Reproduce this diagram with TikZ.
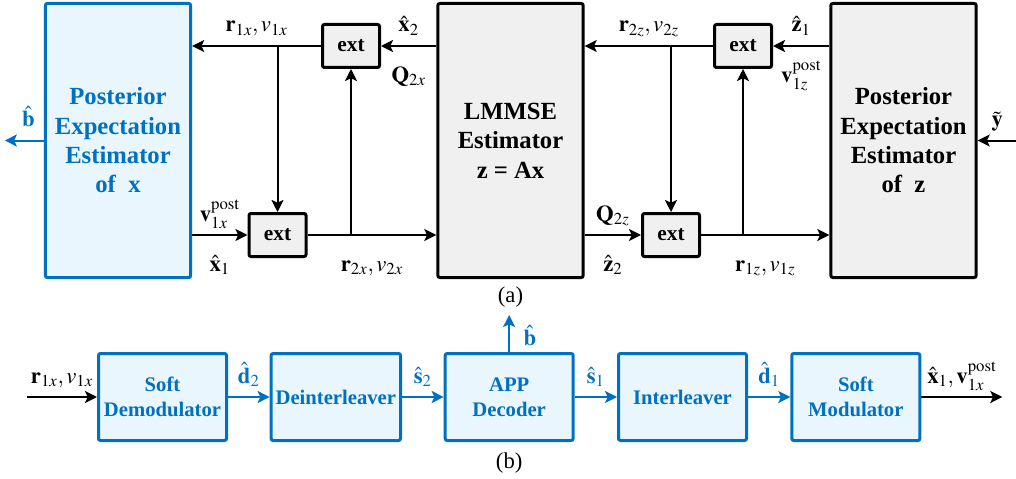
\documentclass[tikz,border=0pt]{standalone}
\usepackage{mathptmx}
\usepackage{fontspec}
\setmainfont{Liberation Serif}
\usepackage{tikz}
\usepackage{xcolor}
\usetikzlibrary{arrows.meta, positioning}

\definecolor{estblue}{RGB}{0,112,192}
\definecolor{estfill}{RGB}{234,246,253}
\definecolor{boxgray}{RGB}{240,240,240}

\begin{document}
\begin{tikzpicture}[on grid, line width=1.5pt, >={Stealth[length=9pt,width=9pt,inset=2pt]},
    bigbox/.style={rectangle, rounded corners=1.5pt, draw, line width=2.25pt, fill=boxgray, minimum width=109pt, minimum height=205.5pt, align=center, font=\fontsize{18.5}{22}\selectfont\bfseries},
    bluebig/.style={bigbox, draw=estblue, fill=estfill, text=estblue},
    extbox/.style={rectangle, rounded corners=1.5pt, draw, line width=2.25pt, fill=boxgray, minimum width=42.75pt, minimum height=32.25pt, font=\fontsize{16}{19}\selectfont\bfseries},
    chainbox/.style={rectangle, rounded corners=1.5pt, draw=estblue, line width=2.25pt, fill=estfill, text=estblue, minimum width=96pt, minimum height=65.25pt, align=center, font=\fontsize{15.5}{18.5}\selectfont\bfseries},
    lbl/.style={font=\fontsize{17}{20}\selectfont, inner sep=0pt},
    lblup/.style={lbl, anchor=base, yshift=10.5pt},
    lbldown/.style={lbl, anchor=base, yshift=-27pt},
    capt/.style={font=\fontsize{17}{20}\selectfont}]

    \useasboundingbox (0,0) rectangle (762pt,-358.5pt);

    % (a) turbo structure of the two estimators
    \node[bluebig] (PEx) at (88.5pt,-105.375pt) {Posterior\\Expectation\\Estimator\\of\ \ x};
    \node[bigbox, right=294.375pt of PEx] (LMMSE) {LMMSE\\Estimator\\z = Ax};
    \node[bigbox, right=294.75pt of LMMSE] (PEz) {Posterior\\Expectation\\Estimator\\of\ \ z};

    \node[extbox, above left=70.875pt and 119.625pt of LMMSE] (extA) {ext};
    \node[extbox, below right=70.875pt and 119.625pt of PEx] (extB) {ext};
    \node[extbox, above left=70.875pt and 120.375pt of PEz] (extC) {ext};
    \node[extbox, below right=70.875pt and 120.375pt of LMMSE] (extD) {ext};

    \coordinate[left=29.25pt of PEx.west] (bhatout);
    \coordinate[right=29.25pt of PEz.east] (yin);

    \path[->]
    (LMMSE.west |- extA) edge node[lblup] (xtwo) {$\hat{\mathbf{x}}_2$} node[lbldown] (Qtwox) {$\mathbf{Q}_{2x}$} (extA.east)
    (extA.west) edge node[lblup] (ronex) {$\mathbf{r}_{1x}, v_{1x}$} (extA -| PEx.east)
    (extB |- extA) edge (extB.north)
    (extB -| PEx.east) edge node[lblup] (vpostx) {$\mathbf{v}_{1x}^{\mathrm{post}}$} node[lbldown] (xone) {$\hat{\mathbf{x}}_1$} (extB.west)
    (extB.east) edge node[lbldown] (rtwox) {$\mathbf{r}_{2x}, v_{2x}$} (extB -| LMMSE.west)
    (extA |- extB) edge (extA.south);

    \path[->]
    (PEz.west |- extC) edge node[lblup] (zone) {$\hat{\mathbf{z}}_1$} node[lbldown] (vpostz) {$\mathbf{v}_{1z}^{\mathrm{post}}$} (extC.east)
    (extC.west) edge node[lblup] (rtwoz) {$\mathbf{r}_{2z}, v_{2z}$} (extC -| LMMSE.east)
    (extD |- extC) edge (extD.north)
    (extD -| LMMSE.east) edge node[lblup] (Qtwoz) {$\mathbf{Q}_{2z}$} node[lbldown] (ztwo) {$\hat{\mathbf{z}}_2$} (extD.west)
    (extD.east) edge node[lbldown] (ronez) {$\mathbf{r}_{1z}, v_{1z}$} (extD -| PEz.west)
    (extC |- extD) edge (extC.south);

    \draw[->, estblue] (PEx.west) -- node[lblup, text=estblue, xshift=3pt] (bhatA) {$\hat{\mathbf{b}}$} (bhatout);
    \draw[->] (yin) -- node[lblup] (ytilde) {$\tilde{\mathbf{y}}$} (PEz.east);

    \node[capt, below=117.4pt of LMMSE] (capa) {(a)};

    % (b) soft demapping and decoding chain
    \node[chainbox] (sdem) at (121.875pt,-297.75pt) {Soft\\Demodulator};
    \node[chainbox, right=130pt of sdem] (deint) {Deinterleaver};
    \node[chainbox, right=130pt of deint] (app) {APP\\Decoder};
    \node[chainbox, right=130pt of app] (intl) {Interleaver};
    \node[chainbox, right=130pt of intl] (smod) {Soft\\Modulator};

    \coordinate[left=52.5pt of sdem.west] (chainin);
    \coordinate[right=60.75pt of smod.east] (chainout);
    \coordinate[above=27.75pt of app.north] (bhatup);

    \draw[->] (chainin) -- node[lblup] (rin) {$\mathbf{r}_{1x}, v_{1x}$} (sdem.west);
    \path[->, estblue]
    (sdem) edge node[lblup, text=estblue] (dtwo) {$\hat{\mathbf{d}}_2$} (deint)
    (deint) edge node[lblup, text=estblue] (stwo) {$\hat{\mathbf{s}}_2$} (app)
    (app) edge node[lblup, text=estblue] (sone) {$\hat{\mathbf{s}}_1$} (intl)
    (intl) edge node[lblup, text=estblue] (done) {$\hat{\mathbf{d}}_1$} (smod);
    \draw[->] (smod.east) -- node[lblup] (xout) {$\hat{\mathbf{x}}_1, \mathbf{v}_{1x}^{\mathrm{post}}$} (chainout);
    \draw[->, estblue] (app.north) -- node[lbl, at start, anchor=base west, xshift=10pt, yshift=5pt, text=estblue] (bhatB) {$\hat{\mathbf{b}}$} (bhatup);

    \node[capt, below=49.5pt of app] (capb) {(b)};

\end{tikzpicture}
\end{document}
